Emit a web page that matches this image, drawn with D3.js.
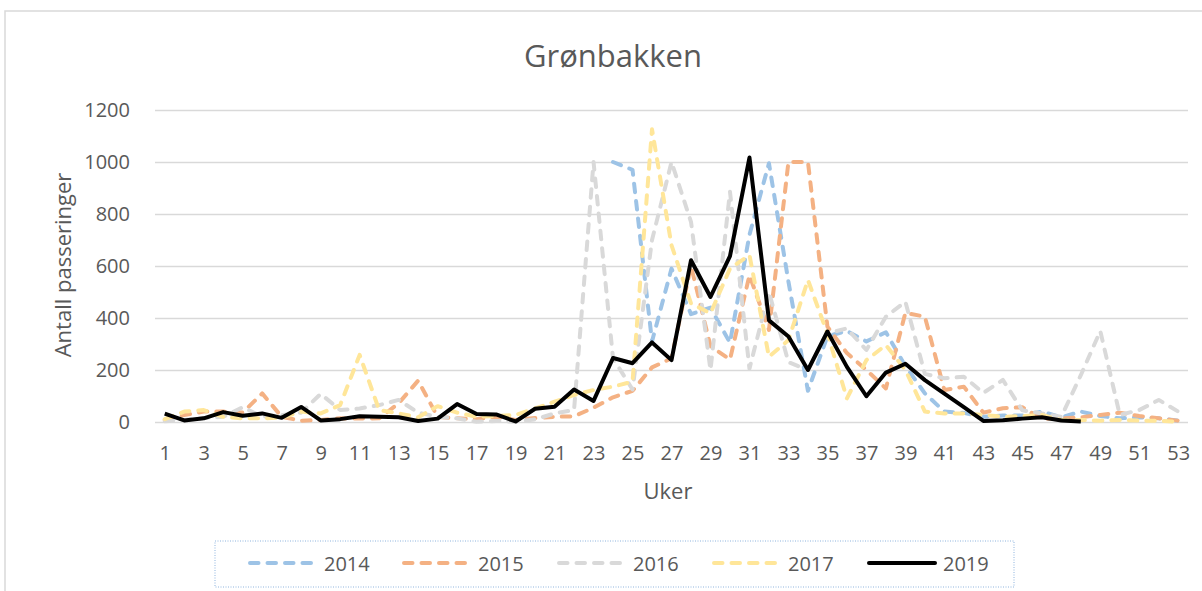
<!DOCTYPE html>
<html>
<head>
<meta charset="utf-8">
<script src="https://cdn.jsdelivr.net/npm/d3@7"></script>
<style>
  body { margin: 0; background: #fff; }
  svg { display: block; font-family: "Open Sans", sans-serif; }
</style>
</head>
<body>
<svg id="chart" width="1202" height="591"></svg>
<script>
const weeks = d3.range(1, 54);

// values, week 1..53 (null = no data)
const y2014 = [null, null, null, null, null, null, null, null, null, null,
    null, null, null, null, null, null, null, null, null, null,
    null, null, null, 1000, 970, 310, 590, 415, 440, 305,
    720, 995, 540, 120, 330, 350, 310, 345, 215, 110,
    40, 35, 20, 25, 25, 40, 18, 40, 23, 14,
    18, 14, 5];
const y2015 = [8, 27, 40, 40, 36, 110, 20, 5, 8, 14,
    13, 14, 72, 159, 20, 14, 11, 20, 8, 15,
    20, 22, 55, 95, 120, 210, 245, 600, 292, 240,
    565, 354, 1000, 1000, 367, 265, 200, 129, 420, 405,
    123, 136, 36, 53, 57, 12, 14, 18, 27, 36,
    23, 14, 5];
const y2016 = [3, 8, 15, 20, 57, 20, 27, 36, 108, 46,
    52, 65, 85, 36, 20, 14, 1, 4, 1, 10,
    33, 46, 1000, 245, 125, 700, 1000, 770, 200, 886,
    205, 500, 230, 200, 341, 360, 277, 405, 463, 185,
    168, 174, 112, 162, 45, 33, 20, 180, 350, 27,
    46, 85, 40];
const y2017 = [11, 40, 46, 20, 14, 14, 17, 40, 33, 65,
    258, 46, 33, 18, 61, 36, 20, 23, 27, 52,
    78, 104, 123, 136, 155, 1126, 680, 456, 418, 590,
    642, 251, 315, 546, 340, 91, 238, 296, 200, 40,
    33, 33, 27, 20, 23, 27, 8, 8, 5, 8,
    5, 5, 1];
const y2019 = [32, 6, 14, 38, 24, 33, 16, 58, 6, 11,
    22, 20, 18, 4, 13, 69, 31, 29, 2, 51,
    59, 125, 81, 246, 226, 306, 238, 622, 481, 638,
    1017, 391, 329, 200, 348, 212, 99, 190, 224, 161,
    109, 57, 4, 7, 13, 18, 6, 2];

const seriesNames = ["2014", "2015", "2016", "2017", "2019"];
const seriesValues = [y2014, y2015, y2016, y2017, y2019];
const seriesColors = ["#9DC3E6", "#F4B183", "#D9D9D9", "#FFE699", "#000000"];
const yTicks = [0, 200, 400, 600, 800, 1000, 1200];
const xTicks = weeks.filter(w => w % 2 === 1);

const svg = d3.select("#chart");
const margin = {top: 110, left: 155, right: 14, bottom: 169};
const width = 1202 - margin.left - margin.right,
    height = 591 - margin.top - margin.bottom;

// outer chart frame
svg.append("rect")
    .attr("x", 5).attr("y", 11)
    .attr("width", 1300).attr("height", 700)
    .attr("fill", "none")
    .attr("stroke", "#D9D9D9")
    .attr("stroke-width", 1.5);

svg.append("text")
    .attr("x", 613).attr("y", 67)
    .attr("text-anchor", "middle")
    .attr("fill", "#595959")
    .style("font-size", "31px")
    .text("Grønbakken");

const x = d3.scalePoint()
    .domain(weeks)
    .range([margin.left, margin.left + width])
    .padding(0.5);

const y = d3.scaleLinear()
    .domain([0, 1200])
    .range([margin.top + height, margin.top]);

// gridlines
const grid = svg.append("g")
    .attr("transform", `translate(${margin.left},0)`)
    .call(d3.axisLeft(y).tickValues(yTicks).tickSize(-width).tickFormat(""));
grid.select(".domain").remove();
grid.selectAll("line").attr("stroke", "#D9D9D9").attr("stroke-width", 1.5);

const yAxis = svg.append("g")
    .attr("transform", `translate(${margin.left},0)`)
    .call(d3.axisLeft(y).tickValues(yTicks).tickFormat(d3.format("d")).tickSize(0).tickPadding(25));
yAxis.select(".domain").remove();
yAxis.selectAll("text")
    .attr("fill", "#595959")
    .style("font-size", "20px")
    .style("font-family", "Open Sans");

const xAxis = svg.append("g")
    .attr("transform", `translate(0,${margin.top + height})`)
    .call(d3.axisBottom(x).tickValues(xTicks).tickSize(0).tickPadding(24));
xAxis.select(".domain").remove();
xAxis.selectAll("text")
    .attr("fill", "#595959")
    .style("font-size", "20px")
    .style("font-family", "Open Sans");

svg.append("text")
    .attr("transform", "translate(62,265) rotate(-90)")
    .attr("text-anchor", "middle")
    .attr("dominant-baseline", "central")
    .attr("fill", "#595959")
    .style("font-size", "22px")
    .text("Antall passeringer");

svg.append("text")
    .attr("x", 668).attr("y", 499)
    .attr("text-anchor", "middle")
    .attr("fill", "#595959")
    .style("font-size", "22px")
    .text("Uker");

const line = d3.line()
    .defined(d => d != null)
    .x((d, i) => x(weeks[i]))
    .y(d => y(d));

seriesValues.forEach(function (vals, k) {
    svg.append("path")
        .datum(vals)
        .attr("fill", "none")
        .attr("stroke", seriesColors[k])
        .attr("stroke-width", 4)
        .attr("stroke-linejoin", "round")
        .attr("stroke-linecap", k === 4 ? "butt" : "round")
        .attr("stroke-dasharray", k === 4 ? null : "8.5,9")
        .attr("d", line);
});

// legend
svg.append("rect")
    .attr("x", 215).attr("y", 541)
    .attr("width", 799).attr("height", 46)
    .attr("fill", "none")
    .attr("stroke", "#8FB4DE")
    .attr("stroke-width", 1)
    .attr("stroke-dasharray", "1,1.5");

const legendX = [248, 402, 557, 712, 867];
seriesNames.forEach(function (name, k) {
    const g = svg.append("g").attr("transform", `translate(${legendX[k]},563)`);
    g.append("line")
        .attr("x1", 2).attr("x2", k === 4 ? 68 : 66)
        .attr("y1", 0).attr("y2", 0)
        .attr("stroke", seriesColors[k])
        .attr("stroke-width", 4)
        .attr("stroke-linecap", "round")
        .attr("stroke-dasharray", k === 4 ? null : "8.5,9");
    g.append("text")
        .attr("x", 76).attr("y", 0)
        .attr("dominant-baseline", "central")
        .attr("fill", "#595959")
        .style("font-size", "20px")
        .text(name);
});
</script>
</body>
</html>
